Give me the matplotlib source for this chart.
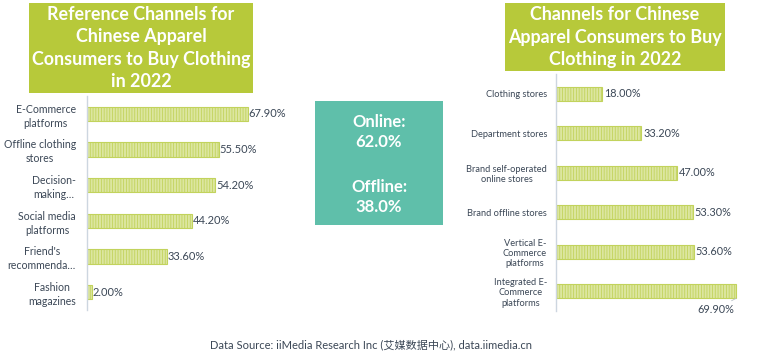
import matplotlib
matplotlib.use("Agg")
import matplotlib.pyplot as plt
from matplotlib.patches import Rectangle

plt.rcParams['font.family'] = ['Lato', 'Noto Sans CJK SC', 'DejaVu Sans']
plt.rcParams['hatch.linewidth'] = 0.6

# ---------------- data ----------------
left_title = "Reference Channels for\nChinese Apparel\nConsumers to Buy Clothing\nin 2022"
left_cats = ["E-Commerce\nplatforms", "Offline clothing\nstores", "Decision-\nmaking…",
             "Social media\nplatforms", "Friend's\nrecommenda…", "Fashion\nmagazines"]
left_vals = [67.9, 55.5, 54.2, 44.2, 33.6, 2.0]

right_title = "Channels for Chinese\nApparel Consumers to Buy\nClothing in 2022"
right_cats = ["Clothing stores", "Department stores", "Brand self-operated\nonline stores",
              "Brand offline stores", "Vertical E-\nCommerce\nplatforms",
              "Integrated E-\nCommerce\nplatforms"]
right_vals = [18.0, 33.2, 47.0, 53.3, 53.6, 69.9]

online_share = 62.0
offline_share = 38.0
source = "Data Source: iiMedia Research Inc (艾媒数据中心), data.iimedia.cn"

# ---------------- style ----------------
W, H = 767, 359
TITLE_BG = "#B7C93A"
BAR_FACE = "#DCE6A0"
BAR_HATCH = "#C2D35C"
TEXT = "#3B4756"
SPINE = "#CDD6E0"
TEAL = "#5FBFAA"

fig = plt.figure(figsize=(W / 100, H / 100), dpi=100)
fig.patch.set_facecolor("white")


def px_axes(x0, y0, x1, y1):
    return fig.add_axes([x0 / W, 1 - y1 / H, (x1 - x0) / W, (y1 - y0) / H])


def box(x0, y0, x1, y1, color):
    fig.patches.append(Rectangle((x0 / W, 1 - y1 / H), (x1 - x0) / W, (y1 - y0) / H,
                                 transform=fig.transFigure, facecolor=color,
                                 edgecolor="none", zorder=0))


def bar_chart(ax, cats, vals, height, xmax, fs, pad, ls):
    y = list(range(len(cats)))
    ax.barh(y, vals, height=height, color=BAR_FACE, edgecolor=BAR_HATCH,
            hatch="||||||", linewidth=0.8)
    ax.set_ylim(len(cats) - 0.5, -0.5)
    ax.set_xlim(0, xmax)
    ax.set_yticks(y)
    ax.set_yticklabels(cats, fontsize=fs, color=TEXT, multialignment="center",
                       linespacing=ls)
    ax.tick_params(axis="y", length=0, pad=pad)
    ax.set_xticks([])
    for s in ("top", "right", "bottom"):
        ax.spines[s].set_visible(False)
    ax.spines["left"].set_color(SPINE)
    ax.spines["left"].set_linewidth(1.0)
    ax.set_facecolor("none")


# ---------- left chart ----------
box(29, 3, 253, 93, TITLE_BG)
fig.text(141 / W, 1 - 48 / H, left_title, ha="center", va="center", color="white",
         fontsize=12.9, fontweight="bold", linespacing=1.36)
axL = px_axes(87, 96, 87 + 75 * 2.37, 310)
bar_chart(axL, left_cats, left_vals, 0.4, 75, 7.6, 8, 1.3)
for i, v in enumerate(left_vals):
    axL.text(v + 0.4, i, f"{v:.2f}%", va="center", ha="left", fontsize=8.0, color=TEXT)

# ---------- middle box ----------
box(315, 101, 443, 225, TEAL)
fig.text(379 / W, 1 - 132 / H, f"Online:\n{online_share:.1f}%", ha="center", va="center",
         color="white", fontsize=12, fontweight="bold", linespacing=1.25)
fig.text(379 / W, 1 - 197 / H, f"Offline:\n{offline_share:.1f}%", ha="center", va="center",
         color="white", fontsize=12, fontweight="bold", linespacing=1.25)

# ---------- right chart ----------
box(505, 3, 725, 71, TITLE_BG)
fig.text(615 / W, 1 - 37 / H, right_title, ha="center", va="center", color="white",
         fontsize=12.9, fontweight="bold", linespacing=1.36)
axR = px_axes(556, 74, 556 + 75 * 2.575, 311)
bar_chart(axR, right_cats, right_vals, 0.36, 75, 6.7, 6.5, 1.2)
for i, v in enumerate(right_vals):
    if i == len(right_vals) - 1:
        axR.annotate(f"{v:.2f}%", xy=(v, i + 0.18), xytext=(v - 0.5, i + 0.45),
                     ha="right", va="center", fontsize=7.8, color=TEXT,
                     arrowprops=dict(arrowstyle="-", color="#B8C0C8", lw=0.6,
                                     shrinkA=0, shrinkB=0))
    else:
        axR.text(v + 0.6, i, f"{v:.2f}%", va="center", ha="left", fontsize=7.8, color=TEXT)

# ---------- source ----------
fig.text(371 / W, 1 - 345 / H, source, ha="center", va="center", fontsize=8.0, color=TEXT)

fig.savefig("out.png", dpi=100, facecolor="white")
